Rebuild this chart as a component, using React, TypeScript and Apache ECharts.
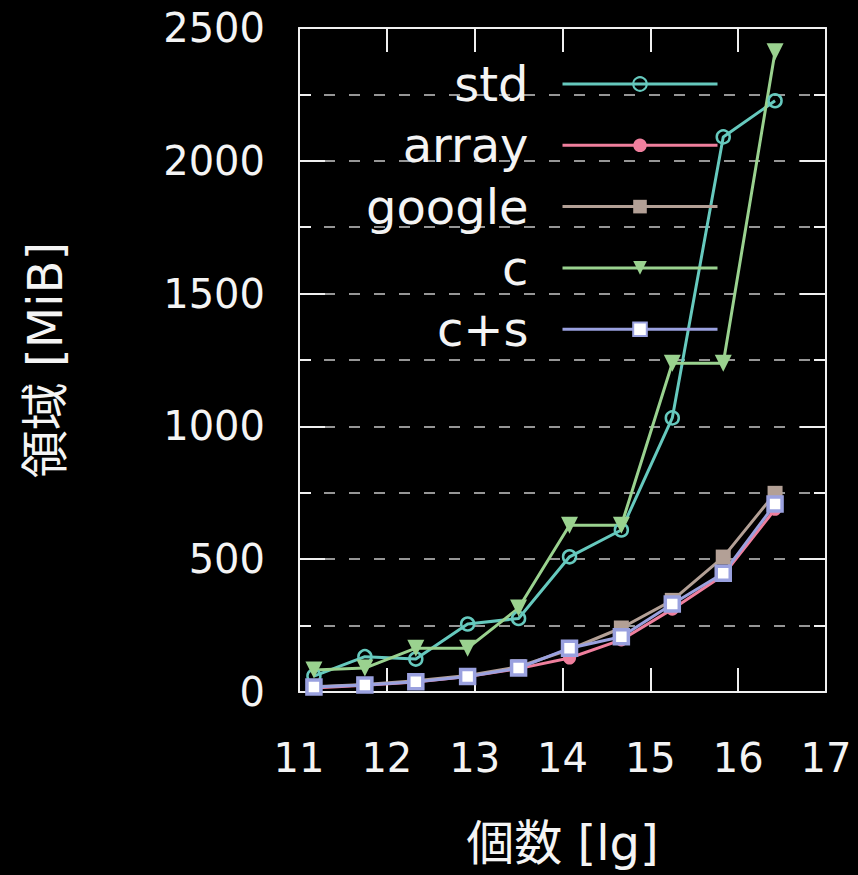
import React, { useEffect, useRef } from "react";
import * as echarts from "echarts";

const X_VALUES = [11.17, 11.75, 12.33, 12.92, 13.5, 14.08, 14.67, 15.25, 15.83, 16.42];
const STD = [60, 133, 124, 256, 277, 509, 610, 1032, 2090, 2226];
const ARRAY = [15, 25, 38, 58, 88, 128, 196, 312, 440, 688];
const GOOGLE = [20, 28, 42, 62, 95, 160, 241, 345, 508, 748];
const C = [83, 90, 165, 165, 316, 628, 628, 1238, 1238, 2411];
const CS = [19, 26, 39, 58, 90, 165, 208, 331, 447, 708];
const SERIES_NAMES = ["std", "array", "google", "c", "c+s"];
const X_NAME = "個数 [lg]";
const Y_NAME = "領域 [MiB]";

const FONT = "'DejaVu Sans', 'Noto Sans CJK JP', sans-serif";
const COL_STD = "#66c9be";
const COL_ARRAY = "#ef7f9d";
const COL_GOOGLE = "#b3a096";
const COL_C = "#9ad28f";
const COL_CS = "#9aa1df";

const pairs = (ys: number[]) => X_VALUES.map((x, i) => [x, ys[i]]);

export default function App() {
  const ref = useRef<HTMLDivElement>(null);
  useEffect(() => {
    document.body.style.background = "#000";
    const chart = echarts.init(ref.current!, undefined, { renderer: "svg" });
    const axisLine = { show: true, onZero: false, lineStyle: { color: "#f0f0f0", width: 2 } };
    const tickStyle = { color: "#f0f0f0", width: 2 };
    const dash = { color: "#c8c8c8", width: 1.5, type: [11, 14] as any };
    chart.setOption({
      animation: false,
      backgroundColor: "#000",
      textStyle: { fontFamily: FONT },
      grid: { left: 299, right: 32, top: 28, bottom: 183, containLabel: false },
      legend: {
        orient: "vertical",
        align: "right",
        right: 134,
        top: 53,
        itemWidth: 155,
        itemHeight: 17,
        itemGap: 9.3,
        lineStyle: { width: 3 },
        textStyle: { color: "#f4f4f4", fontSize: 48, fontFamily: FONT, lineHeight: 52, padding: [0, 29, 0, 0] },
        data: SERIES_NAMES,
      },
      xAxis: [
        {
          type: "value",
          min: 11,
          max: 17,
          interval: 1,
          position: "bottom",
          axisLine,
          axisTick: { show: true, inside: true, length: 24, lineStyle: tickStyle },
          axisLabel: { color: "#f4f4f4", fontSize: 40, fontFamily: FONT, margin: 46 },
          splitLine: { show: false },
          name: X_NAME,
          nameLocation: "middle",
          nameGap: 127,
          nameTextStyle: { color: "#f4f4f4", fontSize: 48, fontFamily: FONT },
        },
        {
          type: "value",
          min: 11,
          max: 17,
          interval: 1,
          position: "top",
          axisLine,
          axisTick: { show: true, inside: true, length: 24, lineStyle: tickStyle },
          axisLabel: { show: false },
          splitLine: { show: false },
        },
      ],
      yAxis: [
        {
          type: "value",
          min: 0,
          max: 2500,
          interval: 500,
          position: "left",
          axisLine,
          axisTick: { show: true, inside: true, length: 26, lineStyle: tickStyle },
          minorTick: { show: true, splitNumber: 2, length: 12, lineStyle: tickStyle },
          axisLabel: {
            color: "#f4f4f4",
            fontSize: 40,
            fontFamily: FONT,
            margin: 34,
            formatter: (v: number) => String(v),
          },
          splitLine: { show: true, lineStyle: dash },
          minorSplitLine: { show: true, lineStyle: dash },
          name: Y_NAME,
          nameLocation: "middle",
          nameGap: 230,
          nameTextStyle: { color: "#f4f4f4", fontSize: 48, fontFamily: FONT },
        },
        {
          type: "value",
          min: 0,
          max: 2500,
          interval: 500,
          position: "right",
          axisLine,
          axisTick: { show: true, inside: true, length: 26, lineStyle: tickStyle },
          minorTick: { show: true, splitNumber: 2, length: 12, lineStyle: tickStyle },
          axisLabel: { show: false },
          splitLine: { show: false },
        },
      ],
      series: [
        {
          name: "std",
          type: "line",
          data: pairs(STD),
          symbol: "circle",
          symbolSize: 13,
          lineStyle: { color: COL_STD, width: 3 },
          itemStyle: { color: "rgba(0,0,0,0)", borderColor: COL_STD, borderWidth: 2.5 },
        },
        {
          name: "array",
          type: "line",
          data: pairs(ARRAY),
          symbol: "circle",
          symbolSize: 13,
          lineStyle: { color: COL_ARRAY, width: 3 },
          itemStyle: { color: COL_ARRAY },
        },
        {
          name: "google",
          type: "line",
          data: pairs(GOOGLE),
          symbol: "rect",
          symbolSize: 15,
          lineStyle: { color: COL_GOOGLE, width: 3 },
          itemStyle: { color: COL_GOOGLE },
        },
        {
          name: "c",
          type: "line",
          data: pairs(C),
          symbol: "triangle",
          symbolRotate: 180,
          symbolSize: 17,
          lineStyle: { color: COL_C, width: 3 },
          itemStyle: { color: COL_C },
        },
        {
          name: "c+s",
          type: "line",
          data: pairs(CS),
          symbol: "rect",
          symbolSize: 14,
          lineStyle: { color: COL_CS, width: 3 },
          itemStyle: { color: "#ffffff", borderColor: COL_CS, borderWidth: 3.5 },
        },
      ],
    });
    return () => chart.dispose();
  }, []);
  return (
    <div
      ref={ref}
      style={{ position: "fixed", left: 0, top: 0, width: 858, height: 875, background: "#000" }}
    />
  );
}
